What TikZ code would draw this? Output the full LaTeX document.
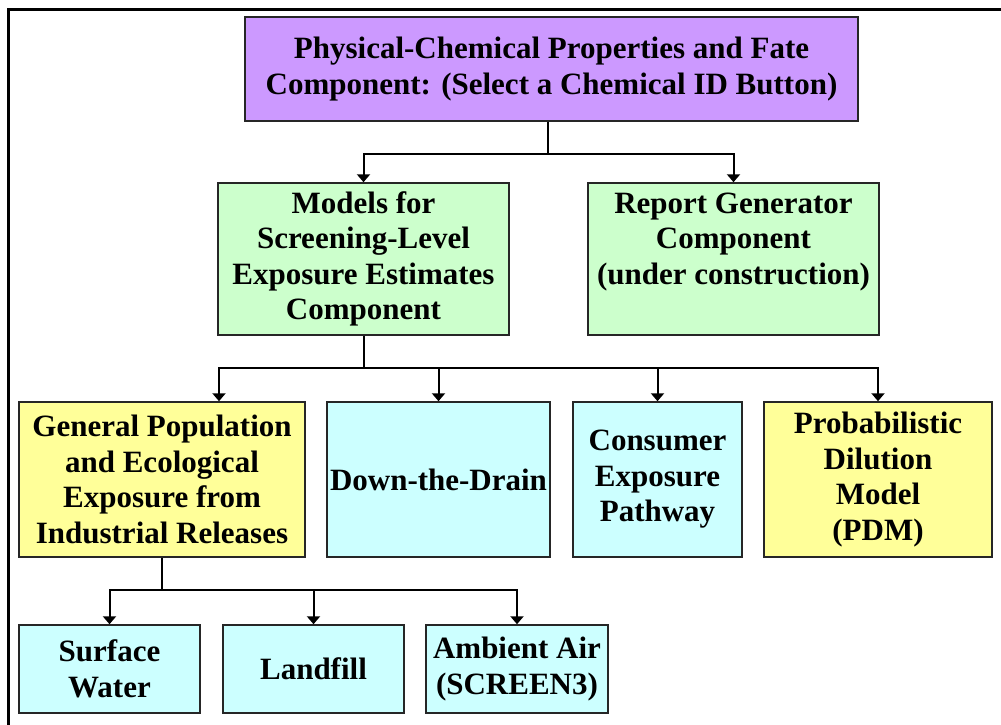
\documentclass[tikz,border=0pt]{standalone}
\usepackage{fontspec}
\setmainfont{Liberation Serif}
\usetikzlibrary{arrows.meta}

\definecolor{lilac}{HTML}{CC99FF}
\definecolor{mint}{HTML}{CCFFCC}
\definecolor{aqua}{HTML}{CCFFFF}
\definecolor{lemon}{HTML}{FFFF99}

\begin{document}
\begin{tikzpicture}[x=1pt, y=-1pt,
    box/.style={draw=black!85, line width=1.5pt, align=center, inner sep=1pt,
      font=\fontsize{31}{35.5}\selectfont\bfseries},
    arr/.style={line width=2pt, -{Triangle[width=13pt,length=8pt]}},
    stem/.style={line width=2pt}]
  \useasboundingbox (0,0) rectangle (1001,724);
  \draw[line width=3pt] (8,726) -- (8,9) -- (1003,9);

  % top level
  \node[box, fill=lilac, minimum width=613, minimum height=104] (phys) at (551.5,69)
    {Physical-Chemical Properties and Fate\\Component: (Select a Chemical ID Button)};

  % components
  \node[box, fill=mint, minimum width=291, minimum height=152] (models) at (363.5,259)
    {Models for\\Screening-Level\\Exposure Estimates\\Component};
  \node[box, fill=mint, minimum width=291, minimum height=152] (report) at (733.5,259)
    {Report Generator\\Component\\(under construction)\\[6pt]};

  % models
  \node[box, fill=lemon, minimum width=286, minimum height=155] (genpop) at (162,479.5)
    {General Population\\and Ecological\\Exposure from\\Industrial Releases};
  \node[box, fill=aqua, minimum width=223, minimum height=155] (drain) at (438.5,479.5)
    {Down-the-Drain};
  \node[box, fill=aqua, minimum width=169, minimum height=155] (consumer) at (657.5,479.5)
    {Consumer\\Exposure\\Pathway};
  \node[box, fill=lemon, minimum width=228, minimum height=155] (pdm) at (878,479.5)
    {Probabilistic\\Dilution\\Model\\(PDM)};

  % media
  \node[box, fill=aqua, minimum width=181, minimum height=88] (surface) at (109.5,669)
    {Surface\\Water};
  \node[box, fill=aqua, minimum width=181, minimum height=88] (landfill) at (313.5,669)
    {Landfill};
  \node[box, fill=aqua, minimum width=182, minimum height=88] (air) at (517,669)
    {Ambient Air\\(SCREEN3)};

  % connectors
  \coordinate (j1) at (548,154);
  \draw[stem] (phys.south -| j1) -- (j1);
  \draw[arr] (j1) -| (models.north);
  \draw[arr] (j1) -| (report.north);

  \coordinate (j2) at (363.5,368);
  \draw[stem] (models.south) -- (j2);
  \draw[arr] (j2) -| ([xshift=57pt]genpop.north);
  \foreach \n in {drain, consumer, pdm}
    \draw[arr] (j2) -| (\n.north);

  \coordinate (j3) at (162,590);
  \draw[stem] (genpop.south) -- (j3);
  \foreach \n in {surface, landfill, air}
    \draw[arr] (j3) -| (\n.north);
\end{tikzpicture}
\end{document}
